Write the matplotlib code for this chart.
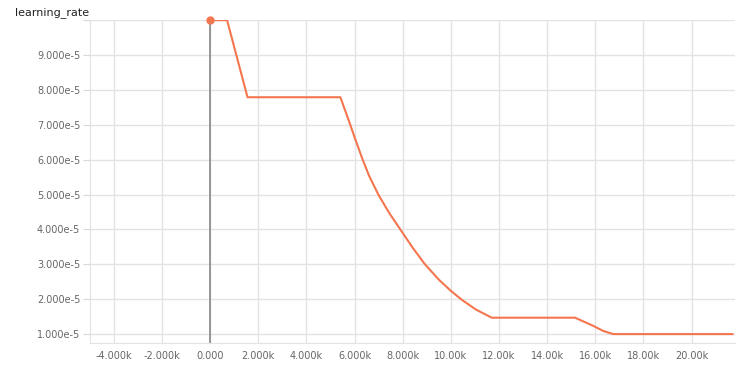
import matplotlib
matplotlib.use("Agg")
import matplotlib.pyplot as plt

# learning rate schedule
steps = [0, 700, 1550, 5410, 5820, 6000, 6330, 6600, 7000, 7450, 7900,
         8400, 8900, 9500, 10000, 10460, 11050, 11700,
         15160, 15920, 16330, 16750, 21700]
lr = [1.0e-4, 1.0e-4, 7.79e-5, 7.79e-5, 7.0e-5, 6.64e-5, 6.01e-5, 5.54e-5,
      4.98e-5, 4.46e-5, 4.0e-5, 3.49e-5, 3.02e-5, 2.56e-5, 2.24e-5, 1.98e-5,
      1.70e-5, 1.47e-5,
      1.47e-5, 1.235e-5, 1.09e-5, 1.0e-5, 1.0e-5]

xticks = [-4000, -2000, 0, 2000, 4000, 6000, 8000, 10000, 12000, 14000,
          16000, 18000, 20000]
xlabels = ["-4.000k", "-2.000k", "0.000", "2.000k", "4.000k", "6.000k",
           "8.000k", "10.00k", "12.00k", "14.00k", "16.00k", "18.00k", "20.00k"]
yticks = [1e-5, 2e-5, 3e-5, 4e-5, 5e-5, 6e-5, 7e-5, 8e-5, 9e-5, 1e-4]
ylabels = ["1.000e-5", "2.000e-5", "3.000e-5", "4.000e-5", "5.000e-5",
           "6.000e-5", "7.000e-5", "8.000e-5", "9.000e-5", ""]

orange = "#f4764f"

fig = plt.figure(figsize=(7.43, 3.73), dpi=100)
ax = fig.add_axes([0.121, 0.080, 0.868, 0.866])

ax.axvline(0, color="#888888", linewidth=1.2, zorder=2)
ax.plot(steps, lr, color=orange, linewidth=1.5, zorder=3)
ax.plot(steps[0], lr[0], "o", color=orange, markersize=5, clip_on=False, zorder=4)

ax.set_xlim(-5000, 21800)
ax.set_ylim(0.74e-5, 1.0e-4)
ax.set_xticks(xticks)
ax.set_xticklabels(xlabels)
ax.set_yticks(yticks)
ax.set_yticklabels(ylabels)

ax.grid(True, color="#e3e3e3", linewidth=1)
ax.set_axisbelow(True)
for side in ["top", "right"]:
    ax.spines[side].set_visible(False)
for side in ["left", "bottom"]:
    ax.spines[side].set_color("#e3e3e3")
ax.tick_params(axis="y", length=5, color="#d8d8d8", labelsize=7,
               labelcolor="#666666", pad=2)
ax.tick_params(axis="x", length=0, labelsize=7, labelcolor="#666666", pad=6)

fig.text(0.02, 0.98, "learning_rate", fontsize=8, color="#222222",
         ha="left", va="top")

fig.savefig("out.png", dpi=100)
